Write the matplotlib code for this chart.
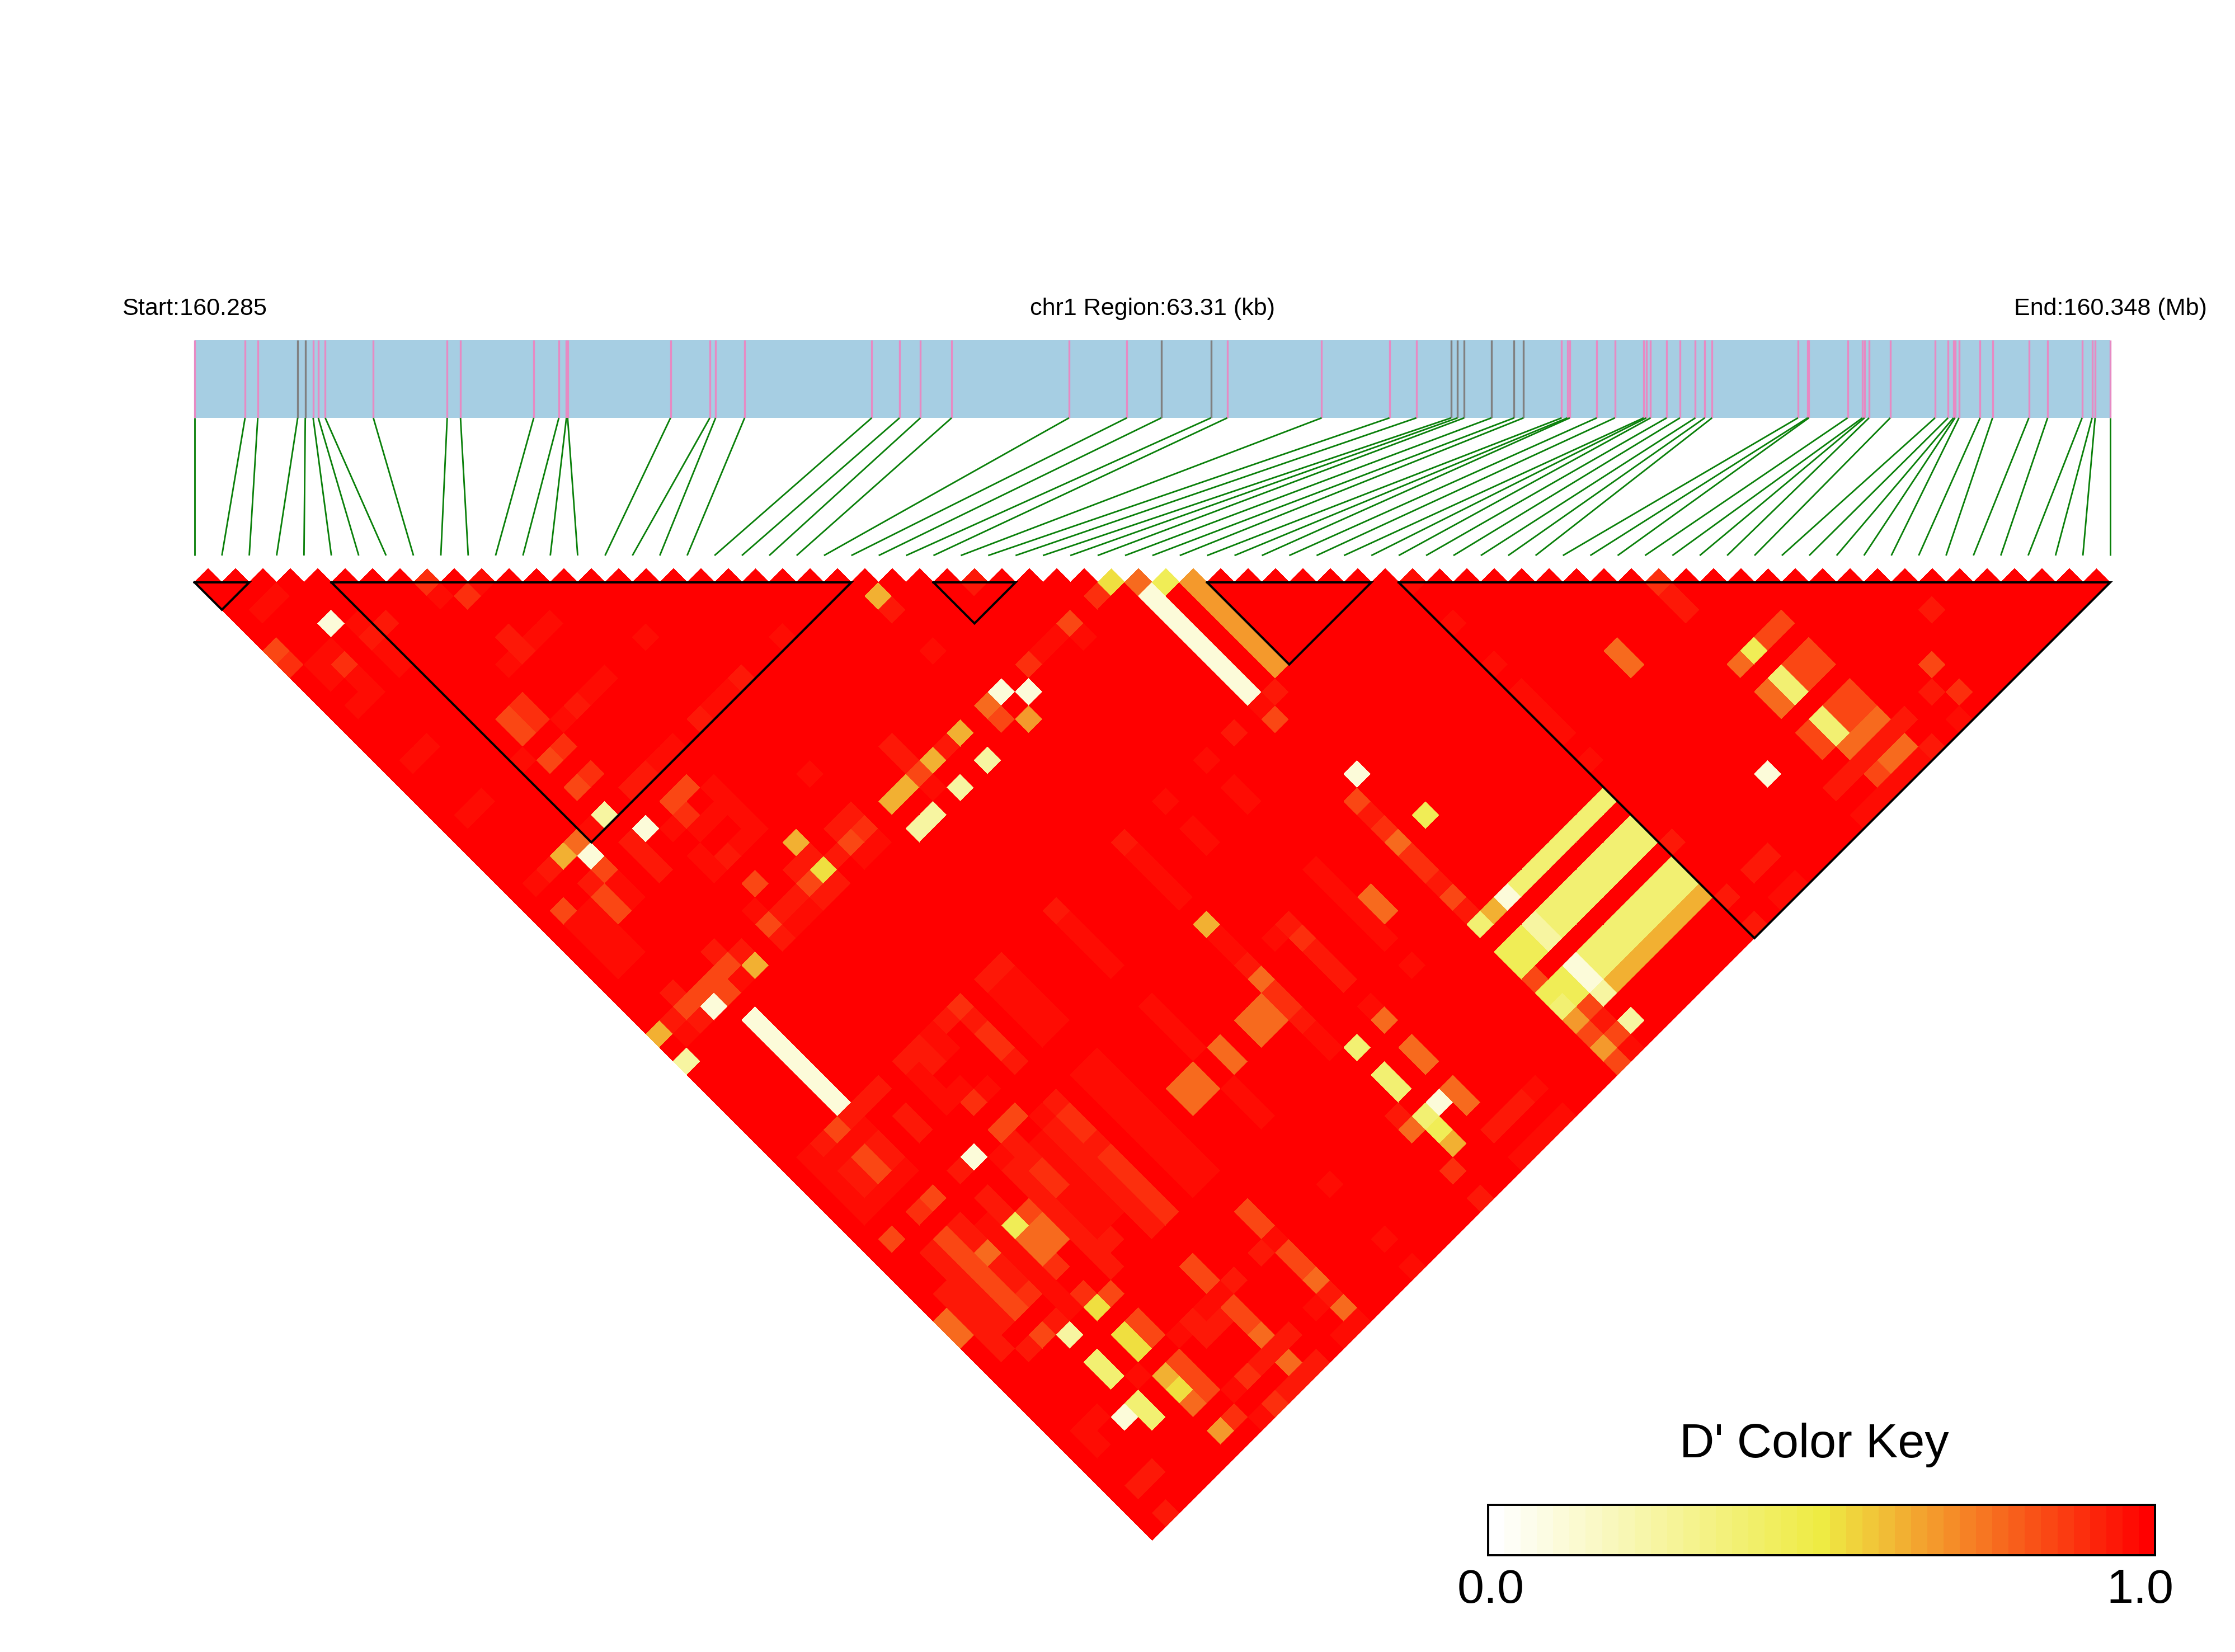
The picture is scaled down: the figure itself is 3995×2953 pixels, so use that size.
import matplotlib
matplotlib.use('Agg')
import matplotlib.pyplot as plt
from matplotlib.collections import PolyCollection, LineCollection
from matplotlib.colors import LinearSegmentedColormap
import numpy as np

plt.rcParams['font.family'] = ['Liberation Sans', 'DejaVu Sans']

# snp positions, kb from region start
snp_kb = [0, 1.67, 2.09, 3.41, 3.66, 3.92, 4.09, 4.32, 5.91, 8.35, 8.79, 11.21, 12.04, 12.29,
          12.33, 15.73, 17.03, 17.22, 18.18, 22.38, 23.30, 23.99, 25.02, 28.90, 30.81, 31.95,
          33.59, 34.13, 37.25, 39.49, 40.38, 41.53, 41.74, 41.96, 42.86, 43.61, 43.92, 45.18,
          45.37, 45.45, 46.34, 46.94, 47.89, 47.98, 48.12, 48.65, 49.09, 49.60, 49.91, 50.15,
          52.99, 53.31, 53.35, 54.63, 55.12, 55.19, 55.34, 56.04, 57.52, 57.95, 58.13, 58.18,
          58.31, 59.01, 59.42, 60.62, 61.24, 62.38, 62.71, 62.81, 63.31]
gray_snps = [3, 4, 25, 26, 31, 32, 33, 34, 35, 36]
region_kb = 63.31

# LD blocks as (first snp, last snp)
blocks = [(0, 2), (5, 24), (27, 30), (37, 43), (44, 70)]

# every pair not listed is D' = 1.0
d_097 = [(10, 10), (8, 9), (1, 3), (2, 3), (1, 7), (2, 7), (1, 8), (2, 9), (2, 10), (1, 10), (4, 7),
         (4, 9), (4, 10), (1, 14), (2, 14), (1, 18), (2, 18), (10, 14), (11, 14), (14, 18), (8, 14),
         (8, 18), (10, 18), (11, 18), (5, 18), (5, 23), (1, 23), (4, 26), (4, 27), (1, 26), (2, 26),
         (1, 27), (2, 27), (1, 28), (2, 28), (1, 29), (2, 29), (8, 26), (10, 23), (11, 23), (14, 23),
         (15, 23), (11, 26), (9, 27), (10, 27), (11, 27), (8, 28), (8, 29), (10, 29), (11, 28), (11, 29),
         (1, 34), (5, 34), (19, 23), (24, 29), (29, 33), (28, 33), (30, 34), (19, 34), (15, 29), (15, 34),
         (14, 34), (10, 34), (8, 32), (9, 34), (30, 43), (27, 43), (30, 45), (30, 46), (27, 45), (27, 46),
         (24, 44), (24, 45), (24, 46), (24, 47), (19, 44), (19, 45), (19, 46), (19, 47), (24, 50), (24, 51),
         (14, 44), (14, 45), (14, 46), (14, 47), (15, 44), (15, 45), (15, 46), (15, 47), (10, 43), (10, 44),
         (8, 44), (8, 45), (8, 46), (9, 46), (10, 47), (14, 50), (14, 51), (14, 52), (14, 53), (14, 54),
         (14, 55), (14, 56), (14, 57), (14, 58), (15, 50), (15, 51), (15, 52), (15, 53), (15, 54), (15, 55),
         (15, 56), (15, 57), (15, 58), (19, 50), (19, 51), (19, 52), (19, 53), (19, 56), (19, 57), (19, 58),
         (26, 52), (34, 43), (44, 44), (59, 69), (56, 69), (55, 69), (54, 69), (53, 69), (52, 69), (35, 69),
         (44, 47), (44, 50), (44, 52), (44, 53), (44, 54), (44, 55), (44, 57), (30, 51), (30, 52), (30, 53),
         (30, 54), (30, 55), (30, 56), (30, 58), (24, 57), (24, 58), (27, 58), (30, 67), (30, 69), (47, 69),
         (46, 69), (1, 43), (2, 43), (3, 43), (4, 43), (1, 44), (2, 44), (3, 44), (4, 44), (1, 45), (2, 45),
         (3, 45), (4, 45), (1, 46), (2, 46), (3, 46), (4, 46), (1, 47), (2, 47), (3, 47), (4, 47), (11, 50),
         (10, 52), (10, 53), (5, 63), (2, 63), (1, 63), (1, 64),
         (19, 63), (19, 67), (19, 69), (15, 63), (15, 69), (14, 67), (14, 69), (11, 63), (10, 63), (8, 67),
         (8, 69), (8, 63), (8, 50), (10, 51), (10, 54), (10, 55), (10, 56), (9, 54), (9, 55), (9, 56),
         (5, 52), (5, 53), (5, 54), (5, 55), (5, 56), (5, 57), (5, 58), (27, 69), (28, 69), (29, 69)]
d_094 = [(9, 13), (9, 14), (4, 8), (5, 8), (9, 18), (2, 23), (3, 25), (8, 23), (9, 23), (13, 23), (16, 23),
         (9, 29), (2, 32), (2, 34), (6, 25), (6, 26), (6, 27), (1, 33), (5, 32), (19, 31), (19, 32), (21, 33),
         (15, 32), (14, 32), (13, 33), (12, 32), (12, 34), (11, 32), (11, 34), (10, 33), (9, 33), (8, 34),
         (6, 33), (24, 26), (32, 43), (24, 43), (19, 43), (24, 52), (15, 43), (14, 43), (11, 43), (12, 44),
         (12, 47), (9, 43), (8, 43), (9, 44), (6, 43), (5, 43), (4, 43), (2, 43), (6, 45), (6, 46), (4, 45),
         (4, 46), (2, 45), (2, 46), (35, 43), (53, 54), (53, 55), (62, 64), (59, 67), (34, 51), (34, 56),
         (34, 58), (57, 67), (56, 67), (55, 67), (54, 67), (53, 67), (52, 67), (57, 69), (35, 67), (44, 63),
         (44, 67), (44, 69), (47, 67), (46, 67), (27, 52), (27, 54), (27, 55), (27, 56), (29, 67), (28, 67),
         (24, 56), (24, 63), (9, 50), (12, 50), (11, 51), (11, 52), (11, 53), (11, 54), (11, 55), (11, 56),
         (11, 57), (9, 51), (8, 51), (8, 52), (12, 53), (6, 51), (6, 52), (2, 51), (2, 52), (2, 53),
         (2, 54), (2, 55), (2, 56), (1, 53), (1, 54), (1, 55), (1, 56), (1, 57), (4, 51), (4, 52), (4, 54),
         (4, 55), (4, 58), (2, 58), (8, 57), (8, 58), (9, 57), (6, 49), (11, 58), (1, 67), (2, 67), (1, 69),
         (28, 28), (14, 63), (15, 67), (12, 63), (11, 67), (12, 67), (12, 69), (11, 69), (10, 69), (10, 64),
         (9, 64), (9, 63), (10, 67), (8, 53), (8, 54), (8, 55), (8, 56), (24, 69), (27, 67)]
d_090 = [(8, 8), (9, 10), (7, 16), (7, 17), (0, 6), (2, 8), (7, 19), (7, 21), (9, 26), (27, 33), (32, 33),
         (15, 33), (12, 43), (12, 45), (12, 46), (9, 47), (53, 53), (60, 68), (34, 52), (34, 54), (34, 55),
         (27, 53), (24, 54), (24, 55), (12, 51), (12, 52), (12, 54), (12, 55), (12, 56), (12, 57), (9, 52),
         (9, 53), (3, 49), (4, 56), (6, 58), (9, 69), (9, 67), (7, 68), (6, 56), (12, 58), (24, 67)]
d_084 = [(0, 5), (6, 16), (6, 17), (6, 19), (6, 21), (4, 25), (3, 26), (3, 27), (1, 25), (9, 25), (10, 25),
         (3, 33), (4, 33), (4, 34), (2, 33), (5, 33), (30, 33), (24, 34), (19, 33), (14, 33), (11, 33), (9, 31),
         (8, 33), (34, 44), (34, 50), (34, 57), (56, 59), (55, 59), (60, 66), (56, 61), (55, 61), (56, 62),
         (55, 62), (56, 64), (55, 64), (56, 65), (55, 65), (53, 64), (53, 65), (54, 68), (35, 66), (34, 63),
         (34, 67), (35, 68), (34, 69), (3, 45), (3, 46), (4, 49), (1, 49), (3, 51), (3, 52), (3, 53), (3, 54),
         (3, 55), (3, 56), (9, 49), (10, 49), (7, 53), (7, 59), (7, 61), (7, 62), (3, 58), (3, 43),
         (15, 61), (15, 62), (15, 64), (15, 65), (11, 61), (11, 62), (11, 64), (11, 65), (7, 64), (7, 65), (7, 66)]
d_076 = [(34, 34), (24, 33), (4, 23), (53, 59), (49, 54), (49, 55), (53, 61), (53, 62), (56, 66), (55, 66),
         (54, 66), (56, 68), (55, 68), (24, 53), (34, 53), (27, 59), (27, 61), (27, 62), (27, 64), (27, 65),
         (31, 54), (31, 55), (17, 54), (17, 55), (18, 54), (18, 55), (20, 54), (20, 55), (22, 54), (22, 55),
         (23, 54), (23, 55), (7, 54), (7, 55), (6, 54), (6, 55), (4, 53), (0, 54), (0, 55),
         (24, 64), (15, 66), (15, 68), (11, 66), (11, 68), (6, 66)]
d_068 = [(36, 36), (36, 37), (36, 38), (36, 39), (36, 40), (36, 41), (36, 42), (25, 35), (34, 66), (34, 68), (6, 68)]
d_063 = [(3, 23), (0, 33), (12, 31), (24, 25), (22, 33), (20, 33), (18, 33), (17, 33), (6, 34), (24, 49), (35, 59),
         (37, 66), (38, 66), (39, 66), (40, 66), (41, 66), (42, 66), (43, 66), (6, 64), (25, 66)]
d_053 = [(12, 33), (33, 33), (6, 59), (6, 61), (6, 62), (6, 65)]
d_045 = [(35, 35), (54, 59), (36, 53), (34, 61), (35, 61), (35, 62), (34, 62), (35, 64), (35, 65), (34, 64), (6, 53),
         (25, 65)]
d_038 = [(37, 59), (38, 59), (39, 59), (40, 59), (41, 59), (42, 59), (43, 59), (34, 59),
         (37, 61), (38, 61), (39, 61), (40, 61), (41, 61), (42, 61), (43, 61),
         (37, 62), (38, 62), (39, 62), (40, 62), (41, 62), (42, 62), (43, 62),
         (37, 64), (38, 64), (39, 64), (40, 64), (41, 64), (42, 64), (43, 64),
         (37, 65), (38, 65), (39, 65), (40, 65), (41, 65), (42, 65), (43, 65),
         (54, 61), (54, 62), (54, 64), (54, 65), (34, 65), (25, 59), (25, 61), (25, 62), (25, 64),
         (4, 64), (4, 65), (4, 61), (4, 62)]
d_025 = [(6, 23), (0, 35), (22, 35), (20, 35), (18, 35), (17, 35), (36, 61), (36, 62), (36, 66), (36, 68), (4, 59)]
d_012 = [(3, 6), (7, 25), (4, 24), (3, 34), (25, 33), (26, 34), (34, 35), (34, 36), (34, 37), (34, 38), (34, 39),
         (34, 40), (34, 41), (34, 42), (4, 36), (4, 37), (4, 38), (4, 39), (4, 40), (4, 41), (4, 42), (36, 59),
         (36, 64), (36, 65), (7, 49), (50, 64), (35, 49), (26, 64), (3, 64)]

# strongest first so paler cells win any overlap
level_values = [0.97, 0.94, 0.90, 0.84, 0.76, 0.68, 0.63, 0.53, 0.45, 0.38, 0.25, 0.12]
level_cells = [d_097, d_094, d_090, d_084, d_076, d_068, d_063, d_053, d_045, d_038, d_025, d_012]

W, H = 3995, 2953
X0, X1 = 347.7, 3772.0
TOP = 1041.0
STEP = (X1 - X0) / 70
HALF = STEP / 2
N = 70

cmap = LinearSegmentedColormap.from_list('dprime', ['#ffffff', '#eeeb43', '#ff0000'], N=41)

fig = plt.figure(figsize=(W / 300, H / 300), dpi=300, facecolor='white')
ax = fig.add_axes([0, 0, 1, 1])
ax.set_xlim(0, W)
ax.set_ylim(H, 0)
ax.axis('off')

# gene bar and snp ticks
BAR_TOP, BAR_BOT, LINK_BOT = 607.5, 747.0, 993.0
ax.fill_between([X0, X1], BAR_TOP, BAR_BOT, color='#a6cee3', lw=0, zorder=1)
snp_x = [X0 + kb / region_kb * (X1 - X0) for kb in snp_kb]
for i, x in enumerate(snp_x):
    col = '#808080' if i in gray_snps else '#e78ac3'
    ax.plot([x, x], [BAR_TOP, BAR_BOT], color=col, lw=0.8, solid_capstyle='butt', zorder=2)

links = [[(x, BAR_BOT), (X0 + k * STEP, LINK_BOT)] for k, x in enumerate(snp_x)]
ax.add_collection(LineCollection(links, colors='#0a800a', linewidths=0.68, zorder=2))

# D' matrix
dprime = np.ones((N, N))
for val, cells in zip(level_values, level_cells):
    for a, b in cells:
        dprime[a, b] = val

polys, vals = [], []
for a in range(N):
    for b in range(a, N):
        cx = X0 + HALF * (a + b + 1)
        cy = TOP + HALF * (b - a)
        polys.append([(cx - HALF, cy), (cx, cy - HALF), (cx + HALF, cy), (cx, cy + HALF)])
        vals.append(dprime[a, b])
mesh = PolyCollection(polys, array=np.array(vals), cmap=cmap, norm=plt.Normalize(0, 1),
                      edgecolors='none', linewidths=0, antialiaseds=False, zorder=3)
ax.add_collection(mesh)

# block outlines
for m, n in blocks:
    left, right = X0 + m * STEP, X0 + n * STEP
    ax.plot([left, right, (left + right) / 2, left], [TOP, TOP, TOP + (n - m) * HALF, TOP],
            color='black', lw=0.95, solid_joinstyle='miter', zorder=4)

ax.text(X0, 563, 'Start:160.285', ha='center', va='baseline', fontsize=10.35)
ax.text((X0 + X1) / 2, 563, 'chr1 Region:63.31 (kb)', ha='center', va='baseline', fontsize=10.35)
ax.text(X1, 563, 'End:160.348 (Mb)', ha='center', va='baseline', fontsize=10.35)

# colour key
KX0, KX1, KY0, KY1 = 2660, 3852, 2690, 2780
kax = fig.add_axes([KX0 / W, 1 - KY1 / H, (KX1 - KX0) / W, (KY1 - KY0) / H])
edges = np.linspace(0, 1, 42)
kax.pcolormesh(edges, [0, 1], ((edges[:-1] + edges[1:]) / 2)[None, :], cmap=cmap, vmin=0, vmax=1)
kax.set_xticks([])
kax.set_yticks([])
for sp in kax.spines.values():
    sp.set_linewidth(0.95)

ax.text(3243, 2605, "D' Color Key", ha='center', va='baseline', fontsize=20.7)
ax.text(2665, 2865, '0.0', ha='center', va='baseline', fontsize=20.7)
ax.text(3825, 2865, '1.0', ha='center', va='baseline', fontsize=20.7)

fig.savefig('out.png', dpi=300, facecolor='white')
